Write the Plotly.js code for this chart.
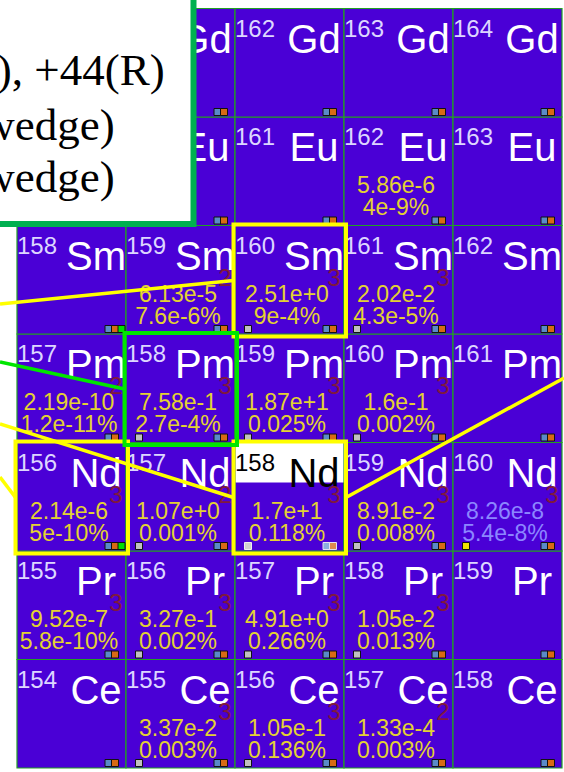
<!DOCTYPE html>
<html><head><meta charset="utf-8">
<script src="https://cdn.plot.ly/plotly-3.0.1.min.js"></script>
<style>html,body{margin:0;padding:0;background:#fff;overflow:hidden}</style>
</head><body><div id="chart" style="width:564px;height:772px"></div>
<script>
// ---- data ----
const protonZ = [58, 59, 60, 61, 62, 63, 64];
const elementSymbols = ['Ce', 'Pr', 'Nd', 'Pm', 'Sm', 'Eu', 'Gd'];
const neutronN = [96, 97, 98, 99, 100];

const yieldNuclides = ['162Eu','159Sm','160Sm','161Sm','157Pm','158Pm','159Pm','160Pm','156Nd','157Nd','158Nd','159Nd','160Nd','155Pr','156Pr','157Pr','158Pr','155Ce','156Ce','157Ce'];
const yieldRates = ['5.86e-6','6.13e-5','2.51e+0','2.02e-2','2.19e-10','7.58e-1','1.87e+1','1.6e-1','2.14e-6','1.07e+0','1.7e+1','8.91e-2','8.26e-8','9.52e-7','3.27e-1','4.91e+0','1.05e-2','3.37e-2','1.05e-1','1.33e-4'];
const yieldPercents = ['4e-9%','7.6e-6%','9e-4%','4.3e-5%','1.2e-11%','2.7e-4%','0.025%','0.002%','5e-10%','0.001%','0.118%','0.008%','5.4e-8%','5.8e-10%','0.002%','0.266%','0.013%','0.003%','0.136%','0.003%'];
const chargeStates = ['','2','3','3','2','3','3','3','3','2','3','3','3','3','3','3','3','3','3','2'];
const faintYields = ['160Nd'];

const grayMarked = ['160Sm','161Sm','158Pm','159Pm','160Pm','157Nd','158Nd','159Nd','156Pr','157Pr','158Pr','155Ce','156Ce'];
const yellowMarked = ['160Nd'];
const greenMarked = ['158Sm','156Nd'];
const selectedNuclide = '158Nd';
const yellowBoxes = ['160Sm','156Nd','158Nd'];
const greenBoxes = ['158Pm'];

const legendLines = ['+40(L), +44(R)', '(left wedge)', '(right wedge)'];

// ---- geometry (pixels) ----
const CW = 109, RH = 108.5, X0PX = 17, YBPX = 768, W = 564, H = 772;
const xr = [neutronN[0] - 0.5 - X0PX / CW, neutronN[0] - 0.5 + (W - X0PX) / CW];
const yr = [protonZ[0] - 0.5 - (H - YBPX) / RH, protonZ[0] - 0.5 + YBPX / RH];
const dx = p => p / CW, dy = p => p / RH;
const p2x = p => xr[0] + p / CW, p2y = p => yr[1] - p / RH;

function parse(name) {
  const A = parseInt(name, 10);
  const sym = name.replace(/^\d+/, '');
  const Z = protonZ[elementSymbols.indexOf(sym)];
  return {A, sym, Z, N: A - Z};
}

// ---- colors ----
const cellFill = '#4a00d6', gridLine = '#22a022';
const massColor = '#ddd6ff', symColor = '#ffffff', qColor = '#801a3c';
const yieldColor = '#e4d232', faintColor = '#8c86ff';
const SANS = 'Liberation Sans, Arial, sans-serif';

const shapes = [];
const cells = [];
protonZ.forEach((Z, i) => neutronN.forEach(N => {
  cells.push({Z, N, A: Z + N, sym: elementSymbols[i], name: (Z + N) + elementSymbols[i]});
  shapes.push({type: 'rect', layer: 'below', xref: 'x', yref: 'y',
    x0: N - 0.5, x1: N + 0.5, y0: Z - 0.5, y1: Z + 0.5,
    fillcolor: cellFill, line: {color: gridLine, width: 1.2}});
}));
const sel = parse(selectedNuclide);
shapes.push({type: 'rect', layer: 'below', xref: 'x', yref: 'y',
  x0: sel.N - 0.5 + dx(0.6), x1: sel.N + 0.5 - dx(0.6), y0: sel.Z + 0.5 - dy(40), y1: sel.Z + 0.5 - dy(0.6),
  fillcolor: '#ffffff', line: {width: 0}});

const traces = [];
// mass numbers
traces.push({type: 'scatter', mode: 'text', hoverinfo: 'skip',
  x: cells.map(c => c.N - 0.5 + dx(0)), y: cells.map(c => c.Z + 0.5 - dy(28 - 18)),
  text: cells.map(c => String(c.A)), textposition: 'bottom right',
  textfont: {family: SANS, size: 24, color: cells.map(c => c.name === selectedNuclide ? '#000000' : massColor)}});
// element symbols (centred right of the mass number)
traces.push({type: 'scatter', mode: 'text', hoverinfo: 'skip',
  x: cells.map(c => c.N - 0.5 + dx(79)), y: cells.map(c => c.Z + 0.5 - dy(44 - 30)),
  text: cells.map(c => c.sym), textposition: 'bottom center',
  textfont: {family: SANS, size: 40, color: cells.map(c => c.name === selectedNuclide ? '#000000' : symColor)}});
// yields
const yp = yieldNuclides.map(parse);
traces.push({type: 'scatter', mode: 'text', hoverinfo: 'skip',
  x: yp.map(p => p.N + 0.5 - dx(3.5)), y: yp.map(p => p.Z + 0.5 - dy(60 - 18)),
  text: chargeStates, textposition: 'bottom left',
  textfont: {family: SANS, size: 24, color: qColor}});
const ycol = yieldNuclides.map(n => faintYields.includes(n) ? faintColor : yieldColor);
traces.push({type: 'scatter', mode: 'text', hoverinfo: 'skip',
  x: yp.map(p => p.N - dx(2.5)), y: yp.map(p => p.Z + 0.5 - dy(76 - 17.25)),
  text: yieldRates, textposition: 'bottom center',
  textfont: {family: SANS, size: 23, color: ycol}});
traces.push({type: 'scatter', mode: 'text', hoverinfo: 'skip',
  x: yp.map(p => p.N - dx(2.5)), y: yp.map(p => p.Z + 0.5 - dy(98 - 17.25)),
  text: yieldPercents, textposition: 'bottom center',
  textfont: {family: SANS, size: 23, color: ycol}});

// small status markers
function markerTrace(list, offX, fromRight, color, selColor, lineColor, selLine) {
  const ps = list.map(n => typeof n === 'string' ? parse(n) : n);
  const names = list.map(n => typeof n === 'string' ? n : n.name);
  return {type: 'scatter', mode: 'markers', hoverinfo: 'skip',
    x: ps.map(p => fromRight ? p.N + 0.5 - dx(offX) : p.N - 0.5 + dx(offX)),
    y: ps.map(p => p.Z - 0.5 + dy(5)),
    marker: {symbol: 'square', size: 7,
      color: names.map(n => n === selectedNuclide ? selColor : color),
      line: {width: 1, color: names.map(n => n === selectedNuclide ? selLine : lineColor)}}};
}
traces.push(markerTrace(cells, 17.5, true, '#5a8ac8', '#8aaee0', '#111111', '#e4e0f0'));
traces.push(markerTrace(cells, 11, true, '#d86a14', '#e08a50', '#111111', '#e4e0f0'));
traces.push(markerTrace(greenMarked, 4.5, true, '#00e000', '#00e000', '#111111', '#111111'));
traces.push(markerTrace(grayMarked, 13, false, '#c0c0c0', '#d0d0d0', '#111111', '#eeeeee'));
traces.push(markerTrace(yellowMarked, 13, false, '#f0e400', '#f0e400', '#111111', '#111111'));

// highlight boxes
function box(name) {
  const p = parse(name);
  return {x0: p.N - 0.5 - dx(1.5), x1: p.N + 0.5 + dx(2), y0: p.Z - 0.5 - dy(2.5), y1: p.Z + 0.5 + dy(1)};
}
yellowBoxes.forEach(n => shapes.push(Object.assign({type: 'rect', layer: 'above', xref: 'x', yref: 'y',
  line: {color: '#ffff00', width: 4}, fillcolor: 'rgba(0,0,0,0)'}, box(n))));
greenBoxes.forEach(n => shapes.push(Object.assign({type: 'rect', layer: 'above', xref: 'x', yref: 'y',
  line: {color: '#00e600', width: 4}, fillcolor: 'rgba(0,0,0,0)'}, box(n))));

// connector lines (outer ends in pixels, inner ends at box edge middles)
function connector(pxX, pxY, name, side, color) {
  const b = box(name);
  return {type: 'line', layer: 'above', xref: 'x', yref: 'y',
    x0: p2x(pxX), y0: p2y(pxY), x1: side === 'left' ? b.x0 : b.x1, y1: (b.y0 + b.y1) / 2,
    line: {color, width: 3.5}};
}
shapes.push(connector(0, 304, '160Sm', 'left', '#ffff00'));
shapes.push(connector(0, 362, '158Pm', 'left', '#00e600'));
shapes.push(connector(0, 424, '158Nd', 'left', '#ffff00'));
shapes.push(connector(0, 477, '156Nd', 'left', '#ffff00'));
shapes.push(connector(W, 378, '158Nd', 'right', '#ffff00'));

// legend box
shapes.push({type: 'rect', layer: 'above', xref: 'x', yref: 'y',
  x0: p2x(-20), x1: p2x(193.5), y0: p2y(224), y1: p2y(-20),
  fillcolor: '#ffffff', line: {color: '#00b050', width: 6}});

const SERIF = 'Liberation Serif, Times New Roman, serif';
const annotations = [
  {text: legendLines[0], xr: 167, yc: 70},
  {text: legendLines[1], xr: 117, yc: 125},
  {text: legendLines[2], xr: 117, yc: 177}
].map(a => ({xref: 'paper', yref: 'paper', x: a.xr / W, y: 1 - a.yc / H,
  xanchor: 'right', yanchor: 'middle', showarrow: false, text: a.text,
  font: {family: SERIF, size: 45, color: '#000000'}}));

const layout = {
  width: W, height: H, margin: {l: 0, r: 0, t: 0, b: 0, pad: 0},
  paper_bgcolor: '#ffffff', plot_bgcolor: '#ffffff', showlegend: false,
  xaxis: {range: xr, visible: false, fixedrange: true},
  yaxis: {range: yr, visible: false, fixedrange: true},
  shapes, annotations
};
Plotly.newPlot('chart', traces, layout, {staticPlot: true, displayModeBar: false});
</script></body></html>
